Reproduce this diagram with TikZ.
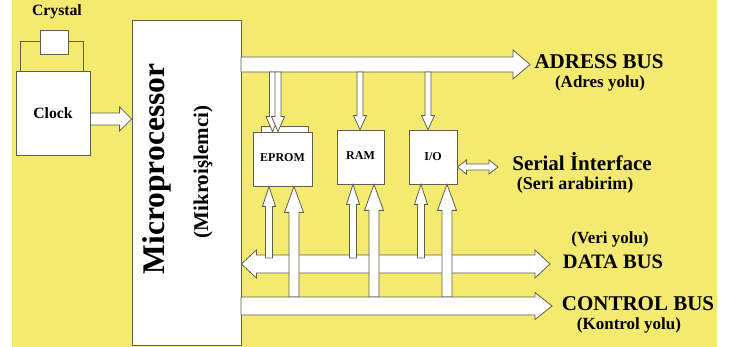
\documentclass[tikz,border=0pt]{standalone}
\usepackage{fontspec}
\setmainfont{Liberation Serif}
\usetikzlibrary{calc}
\definecolor{bg}{RGB}{245,234,112}
\definecolor{edge}{RGB}{95,95,80}
\tikzset{
  box/.style={draw=edge, fill=white, line width=0.8pt, inner sep=0pt, font=\bfseries\fontsize{12}{12}\selectfont},
  barrow/.style={draw=edge, fill=white, line width=0.8pt, line join=miter},
  wire/.style={draw=edge, line width=1pt},
  lbl/.style={font=\bfseries\fontsize{21}{21}\selectfont, inner sep=0pt},
  sublbl/.style={font=\bfseries\fontsize{17}{17}\selectfont, inner sep=0pt}
}
% #1 start, #2 tip, #3 shaft half width, #4 head half width, #5 head length
\newcommand\blockarrow[5]{%
  \coordinate (ba-h) at ($(#2)!#5!(#1)$);
  \draw[barrow] ($(#1)!#3!90:(#2)$) -- ($(ba-h)!#3!90:(#2)$) -- ($(ba-h)!#4!90:(#2)$) -- (#2)
    -- ($(ba-h)!#4!-90:(#2)$) -- ($(ba-h)!#3!-90:(#2)$) -- ($(#1)!#3!-90:(#2)$) -- cycle;
}
% #1 tip one, #2 tip two
\newcommand\dblockarrow[5]{%
  \coordinate (ba-h) at ($(#2)!#5!(#1)$);
  \coordinate (ba-g) at ($(#1)!#5!(#2)$);
  \draw[barrow] (#1) -- ($(ba-g)!#4!90:(#2)$) -- ($(ba-g)!#3!90:(#2)$) -- ($(ba-h)!#3!90:(#2)$)
    -- ($(ba-h)!#4!90:(#2)$) -- (#2) -- ($(ba-h)!#4!-90:(#2)$) -- ($(ba-h)!#3!-90:(#2)$)
    -- ($(ba-g)!#3!-90:(#2)$) -- ($(ba-g)!#4!-90:(#2)$) -- cycle;
}
\begin{document}
\begin{tikzpicture}[x=1pt,y=-1pt]
\useasboundingbox (0,0) rectangle (738,347);
\fill[white] (0,0) rectangle (738,347);
\fill[bg] (12,0) rectangle (717,347);

% clock and crystal
\node[box, minimum width=74pt, minimum height=84pt, font=\bfseries\fontsize{15.7}{15.7}\selectfont] (clock) at (53,113) {Clock};
\node[box, minimum width=28pt, minimum height=24pt] (crystal) at (54,42) {};
\node[font=\bfseries\fontsize{15.7}{15.7}\selectfont, inner sep=0pt] (crystallbl) at (57,12) {Crystal};
\draw[wire] ([xshift=5pt]clock.north west) |- (crystal.west);
\draw[wire] (crystal.east) -| ([xshift=-7pt]clock.north east);

% microprocessor
\node[box, minimum width=109pt, minimum height=325pt] (mp) at (186.5,182.5) {};
\node[rotate=90, font=\bfseries\fontsize{31.5}{31.5}\selectfont, inner sep=0pt] (mptext) at (157,169) {Microprocessor};
\node[rotate=90, font=\bfseries\fontsize{21}{21}\selectfont, inner sep=0pt] (mpsub) at (203,172) {(Mikroişlemci)};

% clock arrow
\coordinate (ck0) at ($(clock.east)+(0,6)$);
\coordinate (ck1) at (mp.west |- ck0);
\blockarrow{ck0}{ck1}{6pt}{12pt}{12pt}

% memory / io boxes
\node[box, minimum width=47pt, minimum height=6pt] (tab) at (284.5,129) {};
\node[box, minimum width=59pt, minimum height=54pt] (eprom) at (282.5,159) {\raisebox{3pt}{EPROM}};
\node[box, minimum width=47pt, minimum height=54pt] (ram) at (360.5,157) {\raisebox{2pt}{RAM}};
\node[box, minimum width=48pt, minimum height=54pt] (io) at (433,157) {I/O};

% address bus
\coordinate (ab0) at (241,64.5);
\coordinate (ab1) at (530,64.5);
\blockarrow{ab0}{ab1}{7.5pt}{14.5pt}{17pt}

% down arrows from address bus
\coordinate (e1t) at ([xshift=-10pt]eprom.north);
\coordinate (e1s) at (e1t |- 0,72);
\coordinate (e2t) at ([xshift=-4.5pt]eprom.north);
\coordinate (e2s) at (e2t |- 0,72);
\blockarrow{e1s}{e1t}{3pt}{6.5pt}{15pt}
\blockarrow{e2s}{e2t}{3pt}{6.5pt}{15pt}
\coordinate (r1t) at ([xshift=-0.5pt]ram.north);
\coordinate (r1s) at (r1t |- 0,72);
\blockarrow{r1s}{r1t}{3pt}{6.5pt}{14pt}
\coordinate (i1t) at ([xshift=-5pt]io.north);
\coordinate (i1s) at (i1t |- 0,72);
\blockarrow{i1s}{i1t}{3pt}{6.5pt}{14pt}

% data bus
\coordinate (db0) at (mp.east |- 0,264);
\coordinate (db1) at (550,264);
\dblockarrow{db0}{db1}{9pt}{14pt}{15pt}

% small up arrows from data bus
\coordinate (e3t) at ([xshift=-13.5pt]eprom.south);
\coordinate (e3s) at (e3t |- 0,258);
\blockarrow{e3s}{e3t}{3.5pt}{6.5pt}{20pt}
\coordinate (r3t) at ([xshift=-7.5pt]ram.south);
\coordinate (r3s) at (r3t |- 0,258);
\blockarrow{r3s}{r3t}{3.5pt}{6.5pt}{20pt}
\coordinate (i3t) at ([xshift=-12pt]io.south);
\coordinate (i3s) at (i3t |- 0,258);
\blockarrow{i3s}{i3t}{3.5pt}{6.5pt}{20pt}

% big up arrows from control bus
\coordinate (e4t) at ([xshift=11.5pt]eprom.south);
\coordinate (e4s) at (e4t |- 0,297);
\blockarrow{e4s}{e4t}{5pt}{9.5pt}{26pt}
\coordinate (r4t) at ([xshift=13.5pt]ram.south);
\coordinate (r4s) at (r4t |- 0,297);
\blockarrow{r4s}{r4t}{5pt}{9.5pt}{26pt}
\coordinate (i4t) at ([xshift=14pt]io.south);
\coordinate (i4s) at (i4t |- 0,297);
\blockarrow{i4s}{i4t}{5pt}{9.5pt}{26pt}

% control bus
\coordinate (cb0) at (241,306);
\coordinate (cb1) at (552,306);
\blockarrow{cb0}{cb1}{9pt}{13.5pt}{17pt}

% serial interface
\coordinate (si0) at ($(io.east)+(0,10)$);
\coordinate (si1) at (498,167);
\dblockarrow{si0}{si1}{3pt}{7pt}{9pt}

% labels
\node[lbl] (adr) at (599,62) {ADRESS BUS};
\node[sublbl] (adrs) at (600,83) {(Adres yolu)};
\node[lbl] (ser) at (582,162) {Serial İnterface};
\node[sublbl, font=\bfseries\fontsize{18}{18}\selectfont] (sers) at (575,185) {(Seri arabirim)};
\node[sublbl] (dats) at (610,239) {(Veri yolu)};
\node[lbl, font=\bfseries\fontsize{20.5}{20.5}\selectfont] (dat) at (613,262) {DATA BUS};
\node[lbl] (ctl) at (638,304) {CONTROL BUS};
\node[sublbl] (ctls) at (629,325) {(Kontrol yolu)};
\end{tikzpicture}
\end{document}
